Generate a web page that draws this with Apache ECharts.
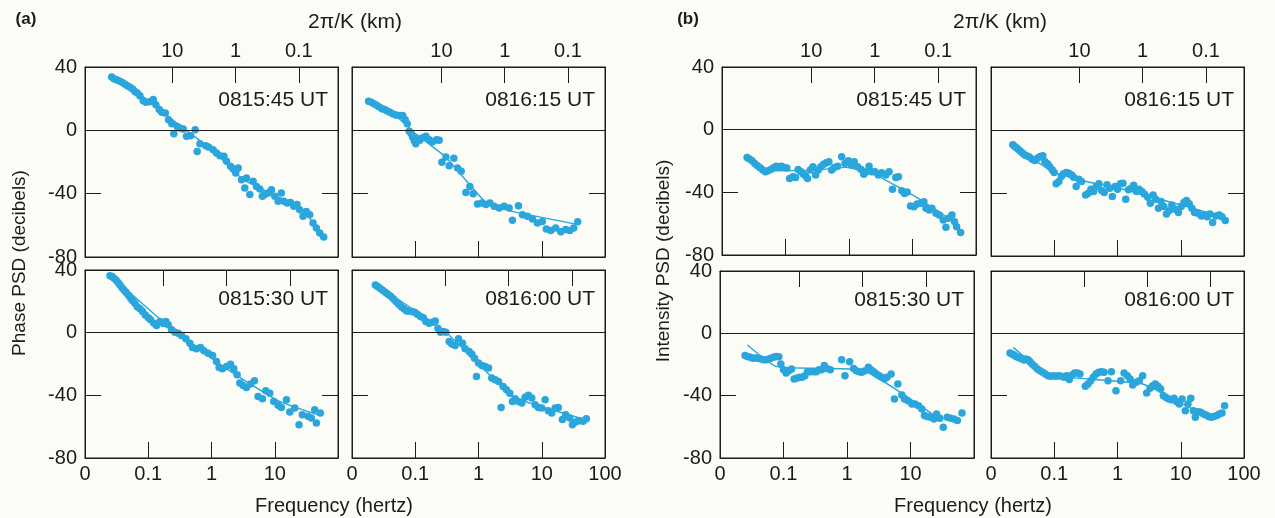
<!DOCTYPE html>
<html>
<head>
<meta charset="utf-8">
<script src="https://cdn.jsdelivr.net/npm/echarts@6/dist/echarts.min.js"></script>
<style>
  html, body { margin: 0; padding: 0; background: #fcfcf7; }
  #chart { width: 1275px; height: 518px; }
</style>
</head>
<body>
<div id="chart"></div>
<script>
// tick values
const kmTicks = [10, 1, 0.1];
const dbMin = -80, dbMax = 40, dbStep = 40;

// phase PSD, [frequency Hz, dB]
const phase0815_45 = [[0.0264,33.7],[0.0287,32.6],[0.0316,32.0],[0.0348,31.2],[0.0384,30.3],[0.0423,29.3],[0.0466,28.2],[0.0514,27.2],[0.0566,26.1],[0.0615,24.6],[0.067,23.6],[0.0738,21.9],[0.0834,18.7],[0.0919,17.7],[0.106,18.1],[0.12,19.4],[0.132,16.2],[0.149,13.1],[0.164,11.4],[0.186,11.0],[0.209,6.7],[0.236,4.2],[0.254,-2.1],[0.287,2.5],[0.316,1.5],[0.357,0.8],[0.403,-3.8],[0.466,-3.4],[0.552,0.4],[0.594,-13.3],[0.655,-8.4],[0.814,-9.7],[0.897,-10.5],[1.06,-12.2],[1.2,-14.3],[1.36,-16.0],[1.57,-16.4],[1.73,-19.6],[2.0,-22.7],[2.2,-24.4],[2.42,-26.9],[2.64,-23.8],[2.98,-31.2],[3.36,-36.4],[3.57,-30.1],[4.03,-40.6],[4.55,-32.2],[5.14,-35.4],[5.8,-37.1],[6.38,-41.7],[6.95,-40.6],[7.85,-39.6],[8.86,-37.5],[10.0,-41.7],[11.3,-44.8],[12.7,-39.6],[13.9,-44.8],[15.7,-45.9],[17.7,-45.5],[20.0,-48.0],[22.5,-46.9],[24.8,-50.1],[28.0,-54.3],[31.6,-51.2],[35.7,-53.3],[40.3,-58.5],[45.5,-61.7],[51.4,-64.8],[59.4,-67.4]];
const phaseFit0815_45 = [[0.028,33],[0.1,19],[0.316,3],[1,-12],[3.16,-31],[10,-41],[25,-49],[40,-58],[58,-67]];

const phase0816_15 = [[0.0183,18.3],[0.0202,17.7],[0.0222,16.8],[0.0245,15.8],[0.027,14.7],[0.0298,13.7],[0.0328,13.1],[0.0361,12.2],[0.0398,11.4],[0.0439,10.5],[0.0495,9.7],[0.0559,9.3],[0.0631,9.3],[0.0695,6.7],[0.0748,4.2],[0.0804,-0.6],[0.0865,-2.1],[0.0908,-4.2],[0.0964,-6.5],[0.102,-8.4],[0.11,-5.1],[0.118,-6.3],[0.134,-4.6],[0.147,-3.8],[0.166,-5.9],[0.188,-7.2],[0.217,-5.9],[0.239,-6.3],[0.264,-20.2],[0.305,-16.8],[0.344,-22.3],[0.408,-17.7],[0.466,-23.8],[0.532,-25.9],[0.631,-39.2],[0.73,-35.4],[0.824,-40.0],[0.964,-46.5],[1.13,-45.9],[1.31,-46.9],[1.51,-45.9],[1.77,-48.0],[2.12,-49.1],[2.54,-48.0],[3.05,-49.1],[3.44,-56.8],[4.28,-47.6],[4.95,-53.3],[5.94,-54.3],[7.12,-56.0],[8.55,-58.5],[10.2,-57.5],[11.8,-62.3],[13.9,-63.2],[16.6,-61.7],[20.0,-64.0],[23.9,-62.7],[27.7,-63.2],[32.0,-61.7],[37.0,-57.7]];
const phaseFit0816_15 = [[0.0188,18.1],[0.05,9],[0.1,-2],[0.305,-17],[1.31,-45.5],[3.44,-51.2],[34.5,-59.2]];

const phase0815_30 = [[0.0248,36.4],[0.0267,35.8],[0.0287,34.7],[0.0309,33.6],[0.0332,32.1],[0.0357,30.4],[0.0384,28.7],[0.0413,27.3],[0.0444,25.8],[0.0483,24.1],[0.0526,22.0],[0.0566,20.3],[0.0615,18.8],[0.067,16.6],[0.0738,15.2],[0.0814,13.5],[0.0897,11.3],[0.1,9.6],[0.109,8.2],[0.123,6.0],[0.135,4.5],[0.153,7.1],[0.173,5.8],[0.19,7.1],[0.207,5.0],[0.234,1.8],[0.264,0.3],[0.298,-0.3],[0.336,-1.8],[0.394,-3.9],[0.455,-6.7],[0.501,-9.5],[0.579,-10.3],[0.67,-9.5],[0.757,-11.6],[0.886,-13.1],[1.04,-14.6],[1.2,-18.4],[1.32,-22.2],[1.49,-23.1],[1.73,-21.6],[2.0,-20.1],[2.25,-23.1],[2.54,-26.9],[2.8,-32.2],[3.16,-33.7],[3.57,-35.0],[4.13,-32.8],[4.77,-30.7],[5.45,-40.7],[6.38,-42.2],[7.21,-37.1],[8.34,-38.6],[9.64,-43.9],[11.3,-46.4],[12.7,-47.7],[15.3,-42.8],[17.3,-50.7],[20.7,-48.1],[24.2,-58.7],[27.3,-52.4],[33.6,-53.4],[37.9,-54.5],[42.8,-49.2],[45.5,-57.7],[52.6,-51.3]];
const phaseFit0815_30 = [[0.0248,36.8],[0.28,-0.3],[2.2,-25.8],[11.9,-43.9],[51.4,-52.8]];

const phase0816_00 = [[0.0234,30.4],[0.0254,29.4],[0.0277,28.3],[0.0305,27.0],[0.0336,25.8],[0.037,24.5],[0.0408,23.2],[0.045,21.6],[0.0495,19.9],[0.0546,18.2],[0.0601,16.6],[0.0662,15.2],[0.073,13.9],[0.0804,13.9],[0.0886,13.5],[0.0976,13.0],[0.108,11.8],[0.121,10.3],[0.134,9.6],[0.147,7.1],[0.166,6.0],[0.188,6.7],[0.207,7.5],[0.228,2.8],[0.251,0.3],[0.277,0.7],[0.305,0.3],[0.344,-5.6],[0.379,-7.3],[0.428,-8.2],[0.483,-3.9],[0.559,-6.7],[0.615,-10.3],[0.712,-12.0],[0.785,-13.7],[0.865,-16.3],[0.929,-27.9],[1.0,-19.4],[1.13,-20.9],[1.27,-21.6],[1.44,-22.6],[1.62,-29.0],[1.83,-30.1],[2.07,-31.1],[2.28,-47.7],[2.45,-34.3],[2.77,-36.4],[3.12,-38.6],[3.44,-43.9],[3.79,-42.2],[4.28,-43.9],[4.83,-44.9],[5.45,-41.3],[6.15,-40.0],[6.95,-41.7],[7.85,-46.0],[8.86,-47.7],[10.0,-48.1],[11.3,-42.8],[12.7,-49.8],[14.4,-51.3],[16.3,-48.1],[18.3,-47.7],[21.2,-55.5],[23.9,-52.4],[27.7,-54.5],[30.5,-58.7],[34.4,-57.0],[38.8,-56.2],[45.0,-56.6],[50.7,-54.9]];
const phaseFit0816_00 = [[0.0234,30.9],[0.305,0.3],[3.44,-40.7],[14.6,-49.2],[49.6,-55.5]];

// intensity PSD, [frequency Hz, dB]
const intensity0815_45 = [[0.0248,-17.7],[0.027,-18.8],[0.0298,-19.9],[0.0328,-21.6],[0.0361,-23.1],[0.0398,-24.3],[0.0439,-25.8],[0.0483,-26.9],[0.0532,-26.2],[0.0587,-25.4],[0.0647,-24.3],[0.0713,-23.3],[0.0785,-23.7],[0.0865,-23.3],[0.0953,-24.1],[0.105,-24.5],[0.116,-31.1],[0.131,-30.1],[0.144,-30.5],[0.158,-25.4],[0.175,-26.9],[0.192,-28.4],[0.207,-29.6],[0.222,-31.1],[0.245,-25.8],[0.27,-23.7],[0.298,-29.0],[0.328,-25.8],[0.361,-23.7],[0.398,-22.0],[0.439,-21.1],[0.483,-20.5],[0.532,-25.8],[0.587,-24.1],[0.662,-23.3],[0.766,-17.3],[0.865,-21.6],[0.976,-19.9],[1.1,-22.6],[1.21,-20.5],[1.37,-23.7],[1.55,-25.4],[1.71,-28.4],[1.88,-26.9],[2.07,-23.3],[2.28,-26.9],[2.57,-26.9],[2.9,-29.0],[3.28,-27.5],[3.79,-29.0],[4.28,-26.9],[4.83,-38.1],[5.45,-30.5],[6.01,-30.1],[6.79,-39.0],[7.48,-40.7],[8.24,-39.8],[9.3,-48.7],[10.5,-49.2],[11.8,-47.5],[13.4,-47.0],[15.1,-46.0],[16.3,-50.2],[18.3,-51.3],[20.2,-50.2],[23.4,-53.4],[26.4,-54.5],[30.5,-57.7],[33.6,-62.3],[37.0,-56.6],[41.8,-54.5],[46.0,-58.7],[49.5,-61.9],[57.3,-65.7]];
const intensityFit0815_45 = [[0.0248,-17.3],[0.0455,-26.2],[0.298,-25.8],[0.883,-24.1],[2.63,-29.0],[11.1,-42.8],[54.5,-61.1]];

const intensity0816_15 = [[0.0221,-9.4],[0.0237,-10.5],[0.0255,-11.5],[0.0275,-12.6],[0.0295,-13.6],[0.0318,-14.7],[0.0342,-15.8],[0.0367,-16.4],[0.0405,-17.2],[0.0447,-18.5],[0.0492,-19.4],[0.0542,-17.9],[0.0598,-16.8],[0.0659,-16.4],[0.0709,-20.0],[0.0782,-21.5],[0.0841,-23.2],[0.0927,-25.3],[0.0998,-27.0],[0.107,-34.2],[0.118,-32.7],[0.13,-29.5],[0.14,-27.8],[0.155,-27.0],[0.17,-27.4],[0.188,-28.5],[0.202,-30.0],[0.222,-35.9],[0.245,-31.2],[0.27,-32.7],[0.313,-41.2],[0.345,-40.1],[0.38,-37.6],[0.419,-39.1],[0.462,-35.9],[0.509,-34.2],[0.561,-38.4],[0.618,-39.7],[0.682,-34.8],[0.752,-37.0],[0.828,-42.3],[0.912,-35.9],[1.0,-37.6],[1.11,-34.2],[1.22,-33.8],[1.35,-44.0],[1.49,-38.0],[1.64,-37.0],[1.8,-35.0],[1.99,-39.1],[2.19,-37.6],[2.42,-39.1],[2.66,-40.6],[3.01,-42.7],[3.31,-46.5],[3.66,-41.2],[4.03,-44.0],[4.44,-49.7],[4.9,-45.4],[5.4,-48.6],[5.94,-53.3],[6.55,-51.2],[7.22,-47.6],[8.15,-50.3],[9.2,-52.4],[10.2,-48.6],[11.2,-46.1],[12.3,-44.8],[13.6,-46.9],[15.0,-49.7],[16.5,-52.4],[18.7,-52.9],[21.1,-54.6],[23.8,-53.9],[26.2,-55.0],[28.9,-53.3],[31.9,-58.8],[36.0,-54.6],[40.6,-53.9],[44.8,-55.0],[50.6,-57.5]];
const intensityFit0816_15 = [[0.0215,-9.4],[0.095,-26.4],[0.32,-32.7],[1.08,-37.0],[4.66,-44.0],[15.7,-49.7],[53.1,-56.0]];

const intensity0815_30 = [[0.0248,-14.3],[0.027,-14.8],[0.0298,-15.4],[0.0328,-16.0],[0.0361,-15.8],[0.0398,-16.0],[0.0439,-16.5],[0.0483,-16.9],[0.0532,-16.9],[0.0587,-16.5],[0.0631,-16.0],[0.0695,-15.4],[0.0766,-14.8],[0.0844,-15.0],[0.0908,-19.7],[0.1,-23.3],[0.11,-25.5],[0.121,-24.0],[0.134,-22.9],[0.147,-29.3],[0.162,-28.9],[0.179,-28.2],[0.197,-28.2],[0.217,-27.2],[0.239,-24.6],[0.264,-24.6],[0.298,-24.6],[0.328,-24.6],[0.361,-23.3],[0.398,-23.3],[0.439,-20.7],[0.483,-22.5],[0.546,-23.3],[0.824,-16.9],[0.929,-27.2],[1.1,-18.2],[1.27,-22.5],[1.4,-24.0],[1.55,-24.6],[1.71,-25.0],[1.88,-24.2],[2.17,-21.8],[2.39,-23.3],[2.64,-24.6],[2.9,-26.1],[3.2,-27.2],[3.52,-28.2],[3.88,-29.3],[4.28,-28.2],[4.95,-26.1],[5.58,-42.1],[6.31,-32.5],[7.29,-39.6],[8.04,-42.1],[9.08,-43.2],[10.5,-45.3],[11.8,-45.3],[13.4,-46.4],[15.1,-48.6],[16.6,-52.8],[18.3,-53.3],[20.7,-53.9],[23.4,-55.0],[25.8,-51.8],[29.0,-54.5],[32.8,-60.3],[37.9,-53.9],[42.8,-54.5],[48.3,-55.0],[54.6,-56.0],[64.7,-51.1]];
const intensityFit0815_30 = [[0.027,-7.5],[0.0785,-21.4],[1.83,-24.0],[23.9,-52.8]];

const intensity0816_00 = [[0.02,-12.6],[0.0215,-13.3],[0.0231,-13.9],[0.0248,-14.8],[0.0267,-15.4],[0.0287,-16.0],[0.0309,-16.5],[0.0333,-17.1],[0.0357,-16.5],[0.0385,-16.9],[0.0414,-18.2],[0.0445,-19.7],[0.049,-21.2],[0.054,-22.9],[0.0595,-24.0],[0.0656,-25.0],[0.0723,-26.1],[0.0796,-27.2],[0.0878,-27.6],[0.0968,-27.2],[0.107,-27.6],[0.117,-27.2],[0.129,-27.6],[0.143,-28.2],[0.157,-27.2],[0.173,-29.7],[0.191,-26.7],[0.21,-25.5],[0.232,-25.5],[0.255,-26.1],[0.31,-34.0],[0.342,-32.5],[0.377,-30.4],[0.415,-28.2],[0.457,-26.1],[0.504,-25.0],[0.555,-24.6],[0.612,-25.0],[0.708,-30.4],[0.8,-24.6],[0.946,-36.8],[1.12,-30.4],[1.27,-25.5],[1.43,-27.2],[1.58,-29.3],[1.74,-33.2],[1.96,-31.4],[2.21,-30.4],[2.5,-27.2],[2.89,-38.3],[3.27,-35.3],[3.6,-33.6],[3.96,-32.5],[4.37,-34.0],[4.81,-35.7],[5.31,-40.0],[5.85,-41.1],[6.44,-42.1],[7.1,-42.6],[7.82,-41.7],[8.61,-43.9],[9.5,-45.3],[10.5,-42.1],[11.8,-49.6],[13.0,-45.3],[14.4,-41.7],[15.8,-49.6],[17.0,-53.9],[18.8,-50.3],[20.7,-50.7],[22.8,-51.8],[25.1,-52.4],[27.6,-53.3],[30.4,-53.9],[33.6,-53.3],[37.0,-52.8],[40.7,-51.8],[44.9,-51.1],[49.4,-46.4]];
const intensityFit0816_00 = [[0.0225,-9.0],[0.0836,-26.7],[2.5,-32.5],[12.1,-46.4],[26.7,-52.8],[43.3,-50.7]];

// panel layout (c: km*Hz factor that links 2pi/K to frequency)
const panels = [
  { dots: phase0815_45, fit: phaseFit0815_45, time: '0815:45 UT', c: 2.4,  col: 0, row: 0, left: 85,  top: 67,  width: 253, height: 190, bottomTicks: false },
  { dots: phase0816_15, fit: phaseFit0816_15, time: '0816:15 UT', c: 2.6,  col: 1, row: 0, left: 352, top: 67,  width: 253, height: 190, bottomTicks: true },
  { dots: phase0815_30, fit: phaseFit0815_30, time: '0815:30 UT', c: 1.73, col: 0, row: 1, left: 85,  top: 270, width: 253, height: 188, bottomTicks: true },
  { dots: phase0816_00, fit: phaseFit0816_00, time: '0816:00 UT', c: 3.0,  col: 1, row: 1, left: 352, top: 270, width: 253, height: 188, bottomTicks: true },
  { dots: intensity0815_45, fit: intensityFit0815_45, time: '0815:45 UT', c: 2.54, col: 0, row: 0, left: 722, top: 67,  width: 254, height: 188, bottomTicks: true },
  { dots: intensity0816_15, fit: intensityFit0816_15, time: '0816:15 UT', c: 2.5,  col: 1, row: 0, left: 991, top: 67,  width: 253, height: 189, bottomTicks: true },
  { dots: intensity0815_30, fit: intensityFit0815_30, time: '0815:30 UT', c: 1.75, col: 0, row: 1, left: 720, top: 271, width: 254, height: 187, bottomTicks: true },
  { dots: intensity0816_00, fit: intensityFit0816_00, time: '0816:00 UT', c: 2.95, col: 1, row: 1, left: 991, top: 271, width: 253, height: 187, bottomTicks: true }
];

const FONT = "'Liberation Sans', Arial, Helvetica, sans-serif";
const INK = '#1b1b1b';
const BLUE = '#2aa6dc';

function freqLabel(v, isLeft) {
  if (v < 0.05) return '0';
  if (v > 50) return isLeft ? '' : '100';
  return String(v);
}
function kmLabel(v) {
  return String(+Math.pow(10, v).toFixed(2));
}

const grids = [], xAxes = [], yAxes = [], series = [], graphics = [];
const kmLogTicks = kmTicks.map(Math.log10);

panels.forEach((p, i) => {
  const isLeft = p.col === 0, isTop = p.row === 0;
  grids.push({ left: p.left, top: p.top, width: p.width, height: p.height,
    show: true, borderColor: INK, borderWidth: 1, backgroundColor: 'transparent' });

  const lineStyle = { color: INK, width: 1 };
  const labelStyle = { fontSize: 20, color: INK, fontFamily: FONT };

  xAxes.push({
    type: 'log', logBase: 10, gridIndex: i, position: 'bottom', min: 0.01, max: 100,
    axisLine: { show: true, onZero: false, lineStyle: lineStyle },
    axisTick: { show: p.bottomTicks, inside: true, length: 16, lineStyle: lineStyle },
    splitLine: { show: false }, minorTick: { show: false },
    axisLabel: Object.assign({ show: !isTop, margin: 6, showMinLabel: true, showMaxLabel: !isLeft,
      formatter: v => freqLabel(v, isLeft) }, labelStyle)
  });
  xAxes.push({
    type: 'value', gridIndex: i, position: 'top', inverse: true,
    min: Math.log10(p.c / 100), max: Math.log10(p.c * 100),
    axisLine: { show: true, onZero: false, lineStyle: lineStyle },
    axisTick: { show: true, inside: true, length: 16, customValues: kmLogTicks, lineStyle: lineStyle },
    splitLine: { show: false },
    axisLabel: Object.assign({ show: isTop, margin: 6, customValues: kmLogTicks, formatter: kmLabel }, labelStyle)
  });

  ['left', 'right'].forEach(side => {
    yAxes.push({
      type: 'value', gridIndex: i, position: side, min: dbMin, max: dbMax, interval: dbStep,
      axisLine: { show: true, onZero: false, lineStyle: lineStyle },
      axisTick: { show: true, inside: true, length: 16, lineStyle: lineStyle },
      splitLine: { show: false },
      axisLabel: Object.assign({ show: isLeft && side === 'left', margin: 8 }, labelStyle)
    });
  });

  series.push({
    type: 'scatter', xAxisIndex: 2 * i, yAxisIndex: 2 * i, data: p.dots,
    symbolSize: 7.5, itemStyle: { color: BLUE, opacity: 1 }, silent: true, z: 3,
    markLine: { silent: true, symbol: 'none', label: { show: false },
      lineStyle: { color: INK, type: 'solid', width: 1 }, data: [{ yAxis: 0 }] }
  });
  series.push({
    type: 'line', xAxisIndex: 2 * i, yAxisIndex: 2 * i, data: p.fit, smooth: 0.15,
    symbol: 'none', silent: true, z: 2, lineStyle: { color: BLUE, width: 1.4 }
  });

  graphics.push({ type: 'text', x: p.left + p.width - 10, y: p.top + (isTop ? 33 : 29),
    style: { text: p.time, fill: INK, font: '21px ' + FONT, textAlign: 'right', align: 'right',
      textVerticalAlign: 'middle', verticalAlign: 'middle' } });
});

function label(text, x, y, size, opts) {
  return Object.assign({ type: 'text', x: x, y: y,
    style: { text: text, fill: INK, font: (opts && opts.bold ? 'bold ' : '') + size + 'px ' + FONT,
      textAlign: 'center', align: 'center', textVerticalAlign: 'middle', verticalAlign: 'middle' } },
    opts && opts.rotation ? { rotation: opts.rotation } : {});
}

graphics.push(
  label('(a)', 26, 19, 17, { bold: true }),
  label('(b)', 688, 19, 17, { bold: true }),
  label('2\u03c0/K (km)', 355, 22, 21),
  label('2\u03c0/K (km)', 1000, 22, 21),
  label('Phase PSD (decibels)', 20, 263, 19, { rotation: Math.PI / 2 }),
  label('Intensity PSD (decibels)', 664, 261, 19, { rotation: Math.PI / 2 }),
  label('Frequency (hertz)', 334, 506, 20),
  label('Frequency (hertz)', 973, 506, 20)
);

const chart = echarts.init(document.getElementById('chart'));
chart.setOption({
  backgroundColor: '#fcfcf7',
  animation: false,
  grid: grids,
  xAxis: xAxes,
  yAxis: yAxes,
  series: series,
  graphic: graphics
});
</script>
</body>
</html>
